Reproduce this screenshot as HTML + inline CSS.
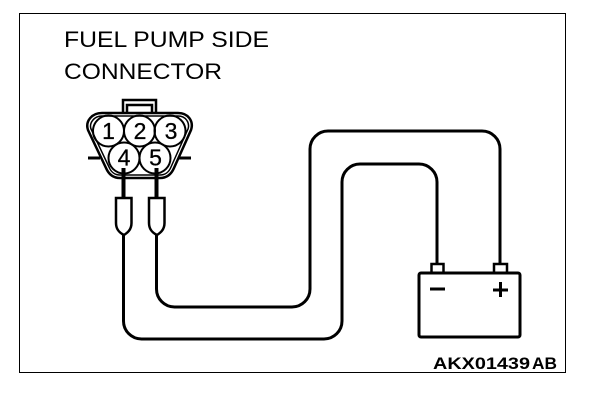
<!DOCTYPE html>
<html>
<head>
<meta charset="utf-8">
<style>
html,body{margin:0;padding:0;background:#fff;width:608px;height:400px;overflow:hidden}
svg{display:block}
text{font-family:"Liberation Sans",sans-serif;fill:#000}
</style>
</head>
<body>
<svg width="608" height="400" viewBox="0 0 608 400" xmlns="http://www.w3.org/2000/svg">
<rect x="19.5" y="13.5" width="546" height="359" fill="none" stroke="#000" stroke-width="1"/>
<text x="64" y="47" font-size="22" textLength="205" lengthAdjust="spacingAndGlyphs">FUEL PUMP SIDE</text>
<text x="64" y="79" font-size="22" textLength="158" lengthAdjust="spacingAndGlyphs">CONNECTOR</text>

<!-- wires -->
<g fill="none" stroke="#000" stroke-width="3">
<path d="M123.5 235V321a18 18 0 0 0 18 18H324a18 18 0 0 0 18-18V182a18 18 0 0 1 18-18H419a18 18 0 0 1 18 18V264"/>
<path d="M156.5 235V289a18 18 0 0 0 18 18H292a18 18 0 0 0 18-18V149a18 18 0 0 1 18-18H482a18 18 0 0 1 18 18V264"/>
</g>

<!-- connector tab -->
<path d="M123 114V100H156V114M127 114V105H152V114" fill="#fff" stroke="#000" stroke-width="2.5"/>
<!-- side tabs -->
<path d="M88 158H100M177 158H191" stroke="#000" stroke-width="3" fill="none"/>
<!-- connector body -->
<path d="M102 113H178C188 113 194 121 191 130L174 168C171 175 166 178 160 178H120C114 178 109 175 106 168L88 130C85 121 92 113 102 113Z" fill="#fff" stroke="#000" stroke-width="2.5"/>
<path d="M102 116H178C186 116 190 123 188 129L171 167C169 172 165 175 160 175H120C115 175 111 172 109 167L91 129C89 123 94 116 102 116Z" fill="#fff" stroke="#000" stroke-width="1.5"/>

<!-- cavities -->
<g fill="none" stroke="#000" stroke-width="2">
<circle cx="108.5" cy="131" r="15.5"/>
<circle cx="170" cy="131" r="15.5"/>
<circle cx="139.5" cy="131" r="15.5"/>
<circle cx="124" cy="158" r="15.5"/>
<circle cx="155" cy="158" r="15.5"/>
</g>
<g font-size="23" text-anchor="middle" stroke="#000" stroke-width="0.3">
<text x="108.5" y="139">1</text>
<text x="140" y="139">2</text>
<text x="171" y="139">3</text>
<text x="124" y="165.5">4</text>
<text x="155.5" y="165.5">5</text>
</g>

<!-- thick probe leads -->
<path d="M123.5 168V198M156.5 168V198" stroke="#000" stroke-width="4" fill="none"/>
<!-- probes -->
<g fill="#fff" stroke="#000" stroke-width="2.5">
<path d="M116 198H131.5V223C131.5 230 127 233 124 235C120 233 116 230 116 223Z"/>
<path d="M149 198H164.5V223C164.5 230 160 233 157 235C153 233 149 230 149 223Z"/>
</g>

<!-- battery -->
<g fill="#fff" stroke="#000" stroke-width="3">
<rect x="431.5" y="264" width="12" height="10" stroke-width="2.5"/>
<rect x="494" y="264" width="13" height="10" stroke-width="2.5"/>
<rect x="419" y="273" width="101" height="64" rx="2"/>
</g>
<path d="M430 289H445M493 290H508M500.5 282V297" stroke="#000" stroke-width="3" fill="none"/>

<text x="433" y="369" font-size="16.5" font-weight="bold" textLength="97" lengthAdjust="spacingAndGlyphs">AKX01439</text>
<text x="532" y="369" font-size="16.5" font-weight="bold" textLength="25" lengthAdjust="spacingAndGlyphs">AB</text>
</svg>
</body>
</html>
